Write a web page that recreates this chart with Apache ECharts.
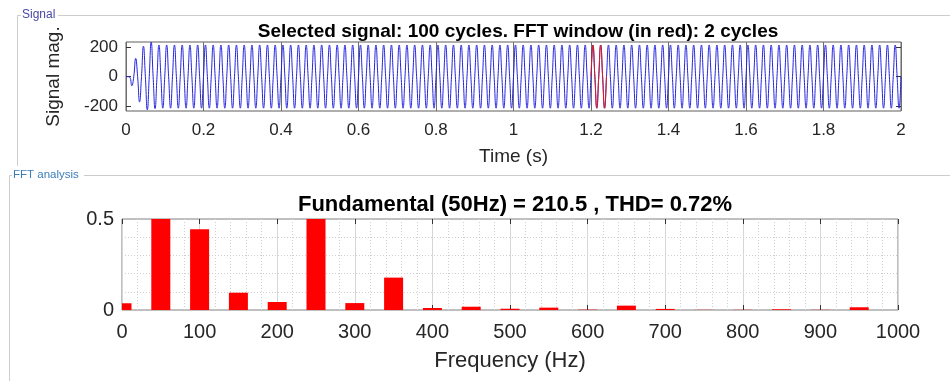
<!DOCTYPE html>
<html>
<head>
<meta charset="utf-8">
<script src="https://cdn.jsdelivr.net/npm/echarts@6/dist/echarts.min.js"></script>
<style>
  html, body { margin: 0; padding: 0; background: #fff; }
  #container { width: 950px; height: 381px; }
</style>
</head>
<body>
<div id="container"></div>
<script>
'use strict';

// signal: 100 cycles of 50 Hz over 2 s, peak / trough read per cycle
let period = 0.02;
let cyclePeaks = [
  0, 123, 205, 232, 213, 213, 213, 213, 213, 213, 213, 213, 213, 213, 213, 213, 213, 213, 213, 213,
  213, 213, 213, 213, 213, 213, 213, 213, 213, 213, 213, 213, 213, 213, 213, 213, 213, 213, 213, 213,
  213, 213, 213, 213, 213, 213, 213, 213, 213, 213, 213, 213, 213, 213, 213, 213, 213, 213, 213, 213,
  213, 213, 213, 213, 213, 213, 213, 213, 213, 213, 213, 213, 213, 213, 213, 213, 213, 213, 213, 213,
  213, 213, 213, 213, 213, 213, 213, 213, 213, 213, 213, 213, 213, 213, 213, 213, 213, 213, 213, 213
];
let cycleTroughs = [
  -61, -170, -223, -215, -212, -212, -212, -212, -212, -212, -212, -212, -212, -212, -212, -212, -212, -212, -212, -212,
  -212, -212, -212, -212, -212, -212, -212, -212, -212, -212, -212, -212, -212, -212, -212, -212, -212, -212, -212, -212,
  -212, -212, -212, -212, -212, -212, -212, -212, -212, -212, -212, -212, -212, -212, -212, -212, -212, -212, -212, -212,
  -212, -212, -212, -212, -212, -212, -212, -212, -212, -212, -212, -212, -212, -212, -212, -212, -212, -212, -212, -212,
  -212, -212, -212, -212, -212, -212, -212, -212, -212, -212, -212, -212, -212, -212, -212, -212, -212, -212, -212, -212
];
let fftWindowStart = 1.2;
let fftWindowEnd = 1.24;
let signalTicks = [-200, 0, 200];

// FFT bars (% of fundamental)
let harmonicFreqs = [0, 50, 100, 150, 200, 250, 300, 350, 400, 450, 500, 550, 600, 650, 700, 750, 800, 850, 900, 950];
let harmonicMags = [0.037, 100, 0.443, 0.095, 0.044, 0.53, 0.038, 0.178, 0.011, 0.018, 0.007, 0.013, 0.002, 0.024, 0.006, 0.001, 0.001, 0.004, 0.001, 0.015];

let topTitle = 'Selected signal: 100 cycles. FFT window (in red): 2 cycles';
let bottomTitle = 'Fundamental (50Hz) = 210.5 , THD= 0.72%';

let FONT = '"Liberation Sans", Arial, sans-serif';
let TXT = '#262626';
let BAR_PX = 19;

function buildSignal() {
  let pts = [];
  for (let k = 0; k < cyclePeaks.length; k++) {
    let t0 = k * period;
    pts.push([t0, 0]);
    pts.push([t0 + period / 4, cyclePeaks[k]]);
    pts.push([t0 + period / 2, k === 0 ? -4 : 0]);
    pts.push([t0 + 3 * period / 4, cycleTroughs[k]]);
  }
  pts.push([cyclePeaks.length * period, 0]);
  return pts;
}

let signal = buildSignal();
let redPart = signal.filter(p => p[0] >= fftWindowStart - 1e-9 && p[0] <= fftWindowEnd + 1e-9);
let bars = harmonicFreqs.map((f, i) => [f, harmonicMags[i]]);

// bars clipped to the axes box on both sides (like MATLAB)
function renderBar(params, api) {
  let base = api.coord([api.value(0), 0]);
  let top = api.coord([api.value(0), api.value(1)]);
  let rect = echarts.graphic.clipRectByRect({
    x: base[0] - BAR_PX / 2, y: top[1], width: BAR_PX, height: base[1] - top[1]
  }, {
    x: params.coordSys.x, y: params.coordSys.y,
    width: params.coordSys.width, height: params.coordSys.height
  });
  if (!rect) return null;
  return { type: 'rect', shape: rect, style: { fill: '#ff0000' } };
}

let chart = echarts.init(document.getElementById('container'));

let hidden = { show: false };

chart.setOption({
  animation: false,
  textStyle: { fontFamily: FONT },
  title: [
    {
      text: topTitle, left: 513, top: 17, textAlign: 'center',
      textStyle: { fontSize: 19, fontWeight: 'bold', color: '#000', fontFamily: FONT }
    },
    {
      text: bottomTitle, left: 510, top: 189, textAlign: 'center',
      textStyle: { fontSize: 22, fontWeight: 'bold', color: '#000', fontFamily: FONT }
    }
  ],
  grid: [
    { left: 126, right: 49, top: 42, height: 69, show: true, borderColor: '#5e5e5e', borderWidth: 1 },
    { left: 122, right: 52, top: 219, height: 91, show: true, borderColor: '#808080', borderWidth: 1 }
  ],
  xAxis: [
    {
      gridIndex: 0, type: 'value', min: 0, max: 2, interval: 0.2,
      axisLine: hidden, axisTick: hidden,
      splitLine: { show: true, lineStyle: { color: '#6e6e6e', width: 1 } },
      axisLabel: { fontSize: 17, color: TXT, margin: 11, fontFamily: FONT },
      name: 'Time (s)', nameLocation: 'middle', nameGap: 36,
      nameTextStyle: { fontSize: 19, color: TXT, fontFamily: FONT }
    },
    {
      gridIndex: 1, type: 'value', min: 0, max: 1000, interval: 100,
      axisLine: hidden,
      axisTick: { show: true, inside: true, length: 5, lineStyle: { color: '#333' } },
      splitLine: { show: true, lineStyle: { color: '#d6d6d6', width: 1 } },
      minorTick: { show: false, splitNumber: 5 },
      minorSplitLine: { show: true, lineStyle: { color: '#cfcfcf', type: [1, 2], width: 1 } },
      axisLabel: { fontSize: 20, color: TXT, margin: 12, fontFamily: FONT, formatter: v => String(v) },
      name: 'Frequency (Hz)', nameLocation: 'middle', nameGap: 40,
      nameTextStyle: { fontSize: 22, color: TXT, fontFamily: FONT }
    },
    {
      gridIndex: 1, type: 'value', min: 0, max: 1000, interval: 100, position: 'top',
      axisLine: hidden, axisLabel: hidden, splitLine: hidden,
      axisTick: { show: true, inside: true, length: 5, lineStyle: { color: '#333' } }
    }
  ],
  yAxis: [
    {
      gridIndex: 0, type: 'value', min: -231, max: 233,
      axisLine: hidden, splitLine: hidden,
      axisTick: { show: true, inside: true, length: 5, customValues: signalTicks, lineStyle: { color: '#333' } },
      axisLabel: { fontSize: 17, color: TXT, margin: 8, customValues: signalTicks, fontFamily: FONT, padding: [3, 0, 0, 0] },
      name: 'Signal mag.', nameLocation: 'middle', nameGap: 63,
      nameTextStyle: { fontSize: 19, color: TXT, fontFamily: FONT }
    },
    {
      gridIndex: 0, type: 'value', min: -231, max: 233, position: 'right',
      axisLine: hidden, splitLine: hidden, axisLabel: hidden,
      axisTick: { show: true, inside: true, length: 5, customValues: signalTicks, lineStyle: { color: '#333' } }
    },
    {
      gridIndex: 1, type: 'value', min: 0, max: 0.5, interval: 0.5,
      axisLine: hidden, axisTick: hidden, splitLine: hidden,
      minorTick: { show: false, splitNumber: 5 },
      minorSplitLine: { show: true, lineStyle: { color: '#cfcfcf', type: [1, 2], width: 1 } },
      axisLabel: { fontSize: 20, color: TXT, margin: 8, fontFamily: FONT }
    }
  ],
  graphic: [
    { type: 'line', shape: { x1: 17.5, y1: 15.5, x2: 21, y2: 15.5 }, style: { stroke: '#cccccc', lineWidth: 1 } },
    { type: 'line', shape: { x1: 58, y1: 15.5, x2: 950, y2: 15.5 }, style: { stroke: '#cccccc', lineWidth: 1 } },
    { type: 'line', shape: { x1: 17.5, y1: 15.5, x2: 17.5, y2: 166 }, style: { stroke: '#cccccc', lineWidth: 1 } },
    { type: 'text', x: 22, y: 9, style: { text: 'Signal', fill: '#4848a8', font: '12px ' + FONT } },
    { type: 'line', shape: { x1: 9.5, y1: 175.5, x2: 12, y2: 175.5 }, style: { stroke: '#cccccc', lineWidth: 1 } },
    { type: 'line', shape: { x1: 84, y1: 175.5, x2: 950, y2: 175.5 }, style: { stroke: '#cccccc', lineWidth: 1 } },
    { type: 'line', shape: { x1: 9.5, y1: 175.5, x2: 9.5, y2: 381 }, style: { stroke: '#cccccc', lineWidth: 1 } },
    { type: 'text', x: 13, y: 169, style: { text: 'FFT analysis', fill: '#3b7db8', font: '11.5px ' + FONT } }
  ],
  series: [
    {
      type: 'line', xAxisIndex: 0, yAxisIndex: 0, data: signal,
      showSymbol: false, smooth: true, clip: true,
      lineStyle: { color: '#2323dc', width: 1 }
    },
    {
      type: 'line', xAxisIndex: 0, yAxisIndex: 0, data: redPart,
      showSymbol: false, smooth: true, clip: true,
      lineStyle: { color: '#e01818', width: 1 }
    },
    {
      type: 'custom', xAxisIndex: 1, yAxisIndex: 2, data: bars,
      renderItem: renderBar, clip: true
    }
  ]
});
</script>
</body>
</html>
